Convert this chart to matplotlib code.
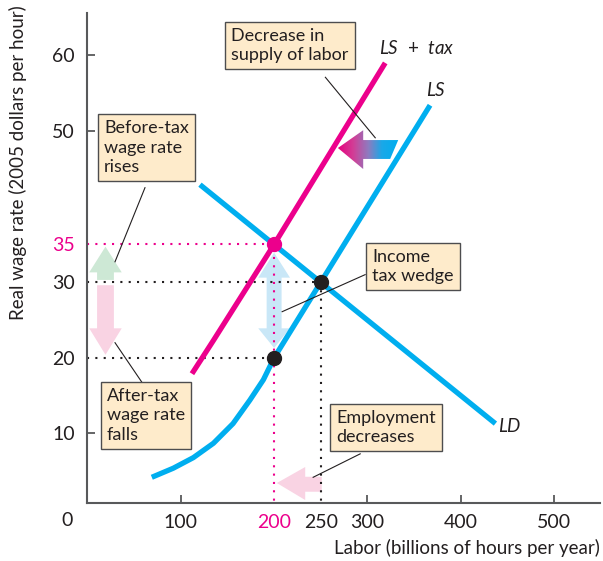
import numpy as np
import matplotlib
matplotlib.use("Agg")
import matplotlib.pyplot as plt
from matplotlib.patches import Polygon
from matplotlib.colors import LinearSegmentedColormap

plt.rcParams['font.family'] = ['Lato', 'DejaVu Sans']
plt.rcParams['mathtext.fontset'] = 'custom'
plt.rcParams['mathtext.it'] = 'Lato:italic'
plt.rcParams['mathtext.rm'] = 'Lato'

# supply of labour (LS), supply plus tax (LS + tax), demand (LD)
ls_x = [69, 92, 113.5, 135, 156, 174, 188.5, 200, 250, 367]
ls_y = [4.2, 5.4, 6.8, 8.7, 11.3, 14.4, 17.1, 20, 30, 53.4]
lstax_x = [112, 135, 200, 319]
lstax_y = [17.9, 22.3, 35, 59]
ld_x = [120.6, 437]
ld_y = [42.9, 11.3]

# equilibrium points
eq_before = (250, 30)
eq_after = (200, 35)
eq_worker = (200, 20)

xticks = [100, 200, 250, 300, 400, 500]
yticks = [10, 20, 30, 35, 50, 60]

DARK = '#231F20'
MAGENTA = '#EC008C'
BLUE = '#00AEEF'
BOX = '#FEEBCB'

fig = plt.figure(figsize=(6.03, 5.61), dpi=100)
ax = fig.add_axes([0.1449, 0.1034, 0.8501, 0.8734])
ax.set_xlim(0, 549)
ax.set_ylim(0.8, 65.6)

for s in ['top', 'right']:
    ax.spines[s].set_visible(False)
for s in ['left', 'bottom']:
    ax.spines[s].set_color('#58595B')
    ax.spines[s].set_linewidth(1.5)

ax.set_xticks(xticks)
ax.set_xticklabels([str(t) for t in xticks])
ax.set_yticks(yticks)
ax.set_yticklabels([str(t) for t in yticks])
ax.tick_params(direction='in', length=6, width=1.3, color='#58595B',
               labelsize=14, labelcolor=DARK)
ax.tick_params(axis='x', pad=8)
ax.tick_params(axis='y', pad=9)
for t, lab, tick in zip(xticks, ax.get_xticklabels(), ax.xaxis.get_major_ticks()):
    if t in (200, 250):
        tick.tick1line.set_visible(False)
    if t == 200:
        lab.set_color(MAGENTA)
for t, lab, tick in zip(yticks, ax.get_yticklabels(), ax.yaxis.get_major_ticks()):
    if t in (20, 30, 35):
        tick.tick1line.set_visible(False)
    if t == 35:
        lab.set_color(MAGENTA)

ax.text(-21.5, -1.5, '0', fontsize=14, color=DARK, ha='center', va='center', clip_on=False)

# dotted guide lines
dot = (0, (1, 3))
ax.plot([0, eq_after[0]], [eq_after[1], eq_after[1]], color=MAGENTA, ls=dot, lw=1.5)
ax.plot([eq_after[0], eq_after[0]], [0, eq_after[1]], color=MAGENTA, ls=dot, lw=1.5)
ax.plot([0, eq_before[0]], [eq_before[1], eq_before[1]], color=DARK, ls=dot, lw=1.5)
ax.plot([eq_before[0], eq_before[0]], [0, eq_before[1]], color=DARK, ls=dot, lw=1.5)
ax.plot([0, eq_worker[0]], [eq_worker[1], eq_worker[1]], color=DARK, ls=dot, lw=1.5)


def arrow(xc, y_tail, y_tip, y_head, half_head, half_shaft, color):
    # vertical block arrow in data units
    pts = [(xc - half_shaft, y_tail), (xc - half_shaft, y_head), (xc - half_head, y_head),
           (xc, y_tip), (xc + half_head, y_head), (xc + half_shaft, y_head),
           (xc + half_shaft, y_tail)]
    ax.add_patch(Polygon(pts, closed=True, facecolor=color, edgecolor='none', zorder=1))


# light arrows on the wage axis
arrow(19.4, 30.3, 34.7, 31.3, 17.4, 9.0, '#CDE8D5')
arrow(19.4, 29.6, 20.4, 23.9, 17.4, 9.0, '#F9D3E3')
# double arrow of the tax wedge
ax.add_patch(Polygon([(192, 30.6), (183, 30.6), (200, 33.9), (217, 30.6), (208, 30.6),
                      (208, 23.9), (217, 23.9), (200, 21.3), (183, 23.9), (192, 23.9)],
                     closed=True, facecolor='#C9E7F7', edgecolor='none', zorder=1))
# employment decreases arrow
ax.add_patch(Polygon([(251, 4.27), (233.3, 4.27), (233.3, 5.56), (202.9, 3.44),
                      (233.3, 1.19), (233.3, 2.29), (251, 2.29)],
                     closed=True, facecolor='#F9D3E3', edgecolor='none', zorder=1))

# gradient arrow: decrease in supply
grad_pts = [(268.3, 47.75), (295.4, 50.1), (295.4, 48.8), (332.9, 48.8),
            (324.3, 46.3), (295.4, 46.3), (295.4, 44.97)]
poly = Polygon(grad_pts, closed=True, facecolor='none', edgecolor='none')
ax.add_patch(poly)
cmap = LinearSegmentedColormap.from_list(
    'g', [(0, '#E6007E'), (0.25, '#D23E96'), (0.5, '#8D7CC0'), (0.72, '#1AA8E8'), (1, BLUE)])
im = ax.imshow(np.linspace(0, 1, 256).reshape(1, -1), cmap=cmap, aspect='auto',
               extent=(268.3, 332.9, 44.97, 50.1), zorder=2)
im.set_clip_path(poly)

# curves
style = dict(lw=3.8, solid_capstyle='butt', solid_joinstyle='round', zorder=3)
ax.plot(ld_x, ld_y, color=BLUE, **style)
ax.plot(ls_x, ls_y, color=BLUE, **style)
ax.plot(lstax_x, lstax_y, color=MAGENTA, **style)

ax.plot(*eq_before, 'o', color=DARK, ms=10, zorder=5)
ax.plot(*eq_worker, 'o', color=DARK, ms=10, zorder=5)
ax.plot(*eq_after, 'o', color=MAGENTA, ms=10, zorder=5)

ax.text(312, 61, r'$LS$  +  $tax$', fontsize=13.5, color=DARK, va='center')
ax.text(363, 55.4, r'$LS$', fontsize=13.5, color=DARK, va='center')
ax.text(440, 11.0, r'$LD$', fontsize=13.5, color=DARK, va='center')

# leader lines
leaders = [((254.9, 57.1), (308.3, 49.1)),
           ((61.7, 42.5), (29.6, 32.7)),
           ((58.2, 16.8), (29.6, 22.0)),
           ((297.5, 31.0), (208.6, 26.1)),
           ((292.2, 7.3), (241.8, 4.2))]
for a, b in leaders:
    ax.plot([a[0], b[0]], [a[1], b[1]], color=DARK, lw=0.8, zorder=4)

box = dict(boxstyle='square,pad=0.33', facecolor=BOX, edgecolor='#4D4D4F', lw=1.0)
notes = [(154.0, 63.6, 'Decrease in\nsupply of labor'),
         (17.8, 51.4, 'Before-tax\nwage rate\nrises'),
         (21.0, 16.0, 'After-tax\nwage rate\nfalls'),
         (305.0, 34.4, 'Income\ntax wedge'),
         (266.4, 13.1, 'Employment\ndecreases')]
for x, y, s in notes:
    ax.text(x, y, s, fontsize=13, color=DARK, ha='left', va='top', linespacing=1.25,
            bbox=box, zorder=6)

fig.text(18 / 603, 1 - 163 / 561, 'Real wage rate (2005 dollars per hour)', rotation=90,
         fontsize=13.5, color=DARK, ha='center', va='center')
fig.text(600 / 603, 1 - 548 / 561, 'Labor (billions of hours per year)',
         fontsize=13.5, color=DARK, ha='right', va='center')

fig.savefig('out.png', dpi=100)
